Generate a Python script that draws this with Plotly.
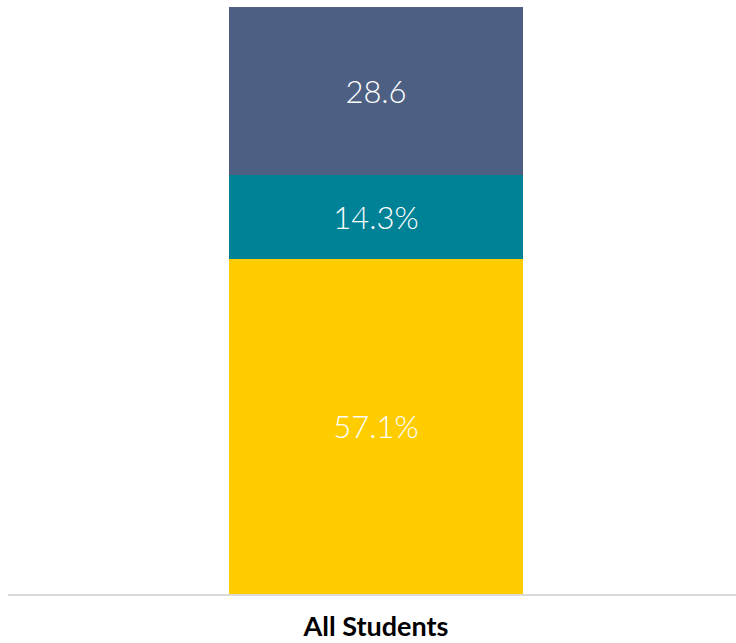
import plotly.graph_objects as go

categories = ["All Students"]
series_names = ["Yellow", "Teal", "Slate"]
series_values = [[57.1], [14.3], [28.6]]
series_labels = [["57.1%"], ["14.3%"], ["28.6"]]
series_colors = ["#FFCC00", "#008296", "#4D6084"]

fig = go.Figure()
for name, vals, labs, col in zip(series_names, series_values, series_labels, series_colors):
    fig.add_trace(go.Bar(
        x=categories, y=vals, name=name, text=labs,
        textposition="inside", insidetextanchor="middle",
        textfont=dict(color="white", size=31, family="Lato", weight=300),
        marker=dict(color=col, line=dict(width=0)),
        width=0.404,
    ))

fig.update_layout(
    barmode="stack",
    width=736, height=643,
    margin=dict(l=8, r=0, t=7, b=49),
    paper_bgcolor="white", plot_bgcolor="white",
    showlegend=False,
    uniformtext=dict(mode=False),
    xaxis=dict(
        range=[-0.5055, 0.4945],
        showline=True, linecolor="#D9D9D9", linewidth=2,
        tickfont=dict(family="Lato", size=27, color="black", weight="bold"),
        ticks="", ticklabelstandoff=8,
    ),
    yaxis=dict(range=[0, 100], visible=False, showgrid=False),
)

fig.write_html(
    "out.html",
    config={"displayModeBar": False},
    post_script="document.body.style.margin='0';document.body.style.overflow='hidden';",
)
